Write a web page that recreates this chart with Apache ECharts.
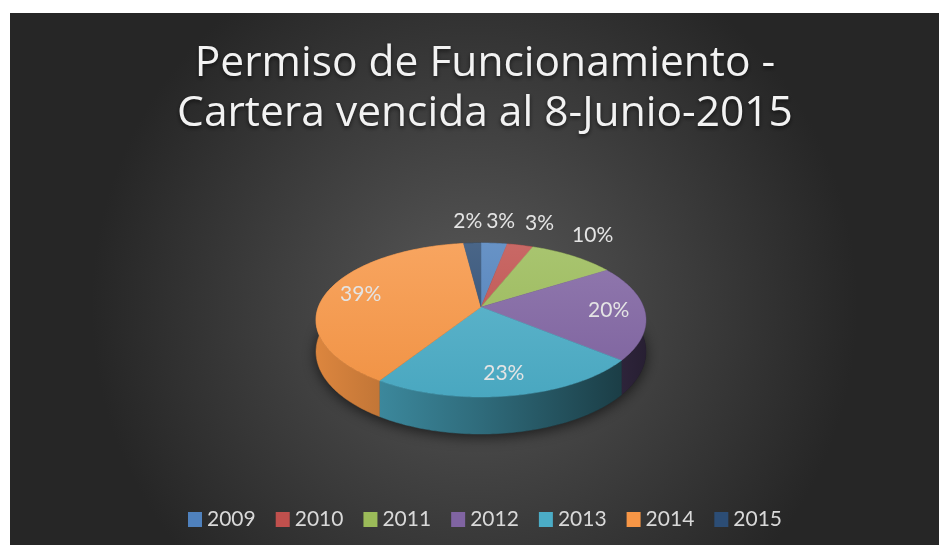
<!DOCTYPE html>
<html>
<head>
<meta charset="utf-8">
<script src="https://cdn.jsdelivr.net/npm/echarts@6/dist/echarts.min.js"></script>
<style>
  html, body { margin: 0; padding: 0; background: #fff; }
  #chart { width: 939px; height: 545px; }
</style>
</head>
<body>
<div id="chart"></div>
<script>
// data (share of overdue portfolio, %)
const years = ['2009', '2010', '2011', '2012', '2013', '2014', '2015']
const shares = [3, 3, 10, 20, 23, 39, 2]
const palette = ['#4f81bd', '#c0504d', '#9bbb59', '#8064a2', '#4bacc6', '#f79646', '#2c4d75']

const titleLines = ['Permiso de Funcionamiento -', 'Cartera vencida al 8-Junio-2015']

// fake 3d pie: perspective projection of a tilted disc
const CX = 481
const CY = 307
const S = 162.6   // radius on screen
const P = 0.169   // perspective strength
const SIN_A = 0.46
const COS_A = 0.888
const H = 0.213   // thickness

function proj(t, r, z) {
  const X = r * Math.sin(t)
  const Y = -r * Math.cos(t)
  const w = 1 - P * Y
  return [CX + S * X / w, CY + S * (Y * SIN_A - z * COS_A) / w]
}

function hexRgb(hex) {
  const n = parseInt(hex.slice(1), 16)
  return [(n >> 16) & 255, (n >> 8) & 255, n & 255]
}
function shade(hex, f) {
  const c = hexRgb(hex).map(v => Math.max(0, Math.min(255, Math.round(v * f))))
  return 'rgb(' + c.join(',') + ')'
}
function tint(hex, a) {
  const c = hexRgb(hex).map(v => Math.round(v + (255 - v) * a))
  return 'rgb(' + c.join(',') + ')'
}

const total = shares.reduce((a, b) => a + b, 0)

function makeRender(i) {
  return function (params, api) {
    let before = 0
    for (let j = 0; j < i; j++) before += shares[j]
    const t0 = before / total * Math.PI * 2
    const t1 = (before + shares[i]) / total * Math.PI * 2
    const n = Math.max(2, Math.ceil((t1 - t0) / (Math.PI / 180)))
    const rimTop = []
    const rimBot = []
    for (let k = 0; k <= n; k++) {
      const t = t0 + (t1 - t0) * k / n
      rimTop.push(proj(t, 1, 0))
      rimBot.push(proj(t, 1, -H))
    }
    const color = palette[i]
    const topFill = new echarts.graphic.LinearGradient(0, CY - 66, 0, CY + 92, [
      { offset: 0, color: tint(color, 0.14) },
      { offset: 1, color: shade(color, 0.97) }
    ], true)
    const sideFill = new echarts.graphic.LinearGradient(CX - 170, 0, CX + 170, 0, [
      { offset: 0, color: shade(color, 0.9) },
      { offset: 0.5, color: shade(color, 0.62) },
      { offset: 1, color: shade(color, 0.3) }
    ], true)

    const children = []
    if (i === 0) {
      const ring = []
      for (let k = 0; k <= 360; k++) ring.push(proj(k * Math.PI / 180, 1, -H))
      children.push({
        type: 'polygon', z2: 0, silent: true,
        shape: { points: ring },
        style: { fill: 'rgba(20,20,20,0.9)', shadowBlur: 14, shadowColor: 'rgba(0,0,0,0.7)', shadowOffsetY: 3 }
      })
    }
    children.push({
      type: 'polygon', z2: 2,
      shape: { points: rimTop.concat(rimBot.slice().reverse()) },
      style: { fill: sideFill, stroke: sideFill, lineWidth: 0.5 }
    })
    children.push({
      type: 'polygon', z2: 10,
      shape: { points: [[CX, CY]].concat(rimTop) },
      style: { fill: topFill, stroke: topFill, lineWidth: 0.5 }
    })

    // data label: big slices inside, small ones just above the rim
    const pct = Math.round(shares[i] / total * 100) + '%'
    const mid = (t0 + t1) / 2
    let lx, ly
    if (shares[i] / total >= 0.15) {
      const p = proj(mid, 0.78, 0)
      lx = p[0]; ly = p[1]
    } else {
      const e = proj(mid, 1, 0)
      lx = e[0] + Math.max(-20, Math.min(20, Math.sin(mid) * 70))
      ly = e[1] - 22 * Math.pow(Math.abs(Math.cos(mid)), 0.3)
    }
    children.push({
      type: 'text', z2: 20, silent: true,
      style: {
        text: pct, x: lx, y: ly,
        align: 'center', verticalAlign: 'middle',
        fill: '#e4e4e4', fontSize: 21, fontFamily: 'Lato'
      }
    })
    return { type: 'group', children: children }
  }
}

const bgFill = new echarts.graphic.RadialGradient(0.5, 0.55, 0.72, [
  { offset: 0, color: '#585858' },
  { offset: 1, color: '#262626' }
])

const chart = echarts.init(document.getElementById('chart'))
chart.setOption({
  animation: false,
  graphic: [{
    type: 'rect', left: 10, top: 13, z: -10, silent: true,
    shape: { width: 929, height: 532 },
    style: { fill: bgFill }
  }],
  title: {
    text: titleLines.join('\n'),
    left: 480, top: 34, textAlign: 'center',
    textStyle: {
      color: '#f2f2f2', fontSize: 42.5, fontWeight: 'normal', fontFamily: 'Open Sans',
      lineHeight: 50,
      textShadowColor: 'rgba(0,0,0,0.6)', textShadowBlur: 4, textShadowOffsetY: 2
    }
  },
  legend: {
    top: 504, left: 183,
    icon: 'rect', itemWidth: 14, itemHeight: 15, itemGap: 20,
    textStyle: { color: '#d9d9d9', fontSize: 21, fontFamily: 'Lato' },
    data: years
  },
  series: years.map((y, i) => ({
    type: 'custom',
    name: y,
    coordinateSystem: 'none',
    itemStyle: { color: palette[i] },
    renderItem: makeRender(i),
    data: [[shares[i]]]
  }))
})
window.addEventListener('resize', () => {
  chart.resize()
})
</script>
</body>
</html>
